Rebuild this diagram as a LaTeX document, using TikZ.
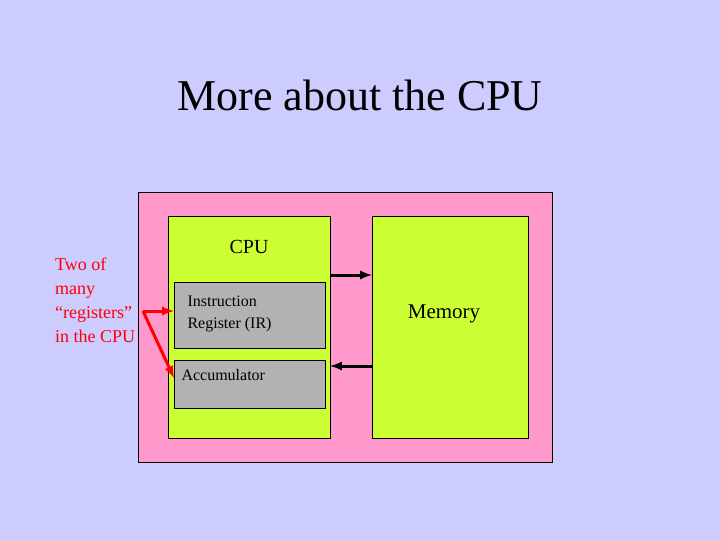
\documentclass[tikz,border=0pt]{standalone}
\usepackage{fontspec}
\setmainfont{Liberation Serif}
\begin{document}
\begin{tikzpicture}[x=1pt,y=-1pt,
 box/.style={draw=black,line width=0.6pt},
 green/.style={box,fill=gbox},
 reg/.style={box,fill=gray!60},
 arr/.style={line width=3pt,-latex},
 rarr/.style={line width=3pt,red,-latex}]
\definecolor{gbox}{RGB}{204,255,51}
\definecolor{bg}{RGB}{204,204,255}
\definecolor{pk}{RGB}{255,153,204}
\fill[bg] (0,0) rectangle (720,540);
\useasboundingbox (0,0) rectangle (720,540);
\node[font=\fontsize{44}{48}\selectfont] (title) at (360,95) {More about the CPU};
\draw[box,fill=pk] (138,192) rectangle (552,462);
\draw[green] (168,216) rectangle (330,438);
\draw[green] (372,216) rectangle (528,438);
\coordinate (cpuR1) at (330,275); \coordinate (memL1) at (372,275);
\coordinate (cpuR2) at (330,366); \coordinate (memL2) at (372,366);
\node[font=\fontsize{20}{24}\selectfont] (cpu) at (249,247) {CPU};
\node[font=\fontsize{21}{24}\selectfont] (mem) at (444,314) {Memory};
\draw[reg] (174,282) rectangle (325,348);
\node[align=left,anchor=west,font=\fontsize{16}{22}\selectfont] (ir) at (184,314) {Instruction\\Register (IR)};
\draw[reg] (174,360) rectangle (325,408);
\node[anchor=west,font=\fontsize{16}{20}\selectfont] (acc) at (178,375) {Accumulator};
\node[align=left,anchor=north west,text=red,inner sep=0pt,font=\fontsize{18}{24}\selectfont] (two) at (55,258) {Two of\\many\\“registers”\\in the CPU};
\coordinate (src) at (143,311);
\coordinate (irL) at (174,311);
\coordinate (accL) at (174,378);
\draw[arr] (cpuR1) -- (memL1);
\draw[arr] (memL2) -- (cpuR2);
\draw[rarr] (src) -- (irL);
\draw[rarr] (src) -- (accL);
\end{tikzpicture}
\end{document}
